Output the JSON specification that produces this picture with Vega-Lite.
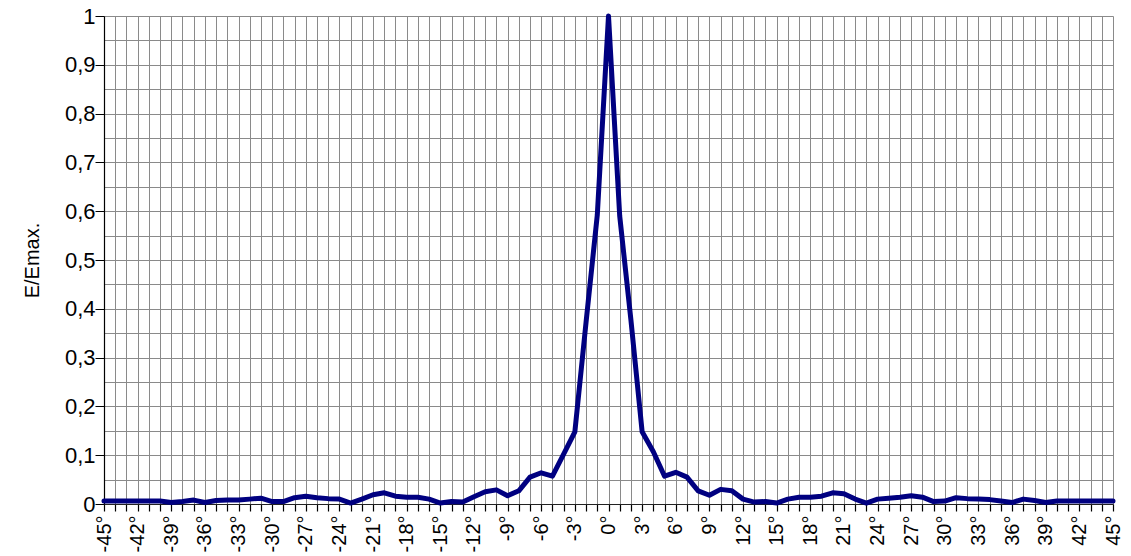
{
  "$schema": "https://vega.github.io/schema/vega-lite/v6.json",
  "width": 1009,
  "height": 488,
  "autosize": {"type": "none"},
  "padding": {"left": 104, "top": 16, "right": 18, "bottom": 52},
  "background": "white",
  "config": {"view": {"stroke": null}, "font": "Liberation Sans"},
  "data": {"values": [
    {"angle": -45, "e": 0.006}, {"angle": -44, "e": 0.006}, {"angle": -43, "e": 0.006}, {"angle": -42, "e": 0.006},
    {"angle": -41, "e": 0.006}, {"angle": -40, "e": 0.006}, {"angle": -39, "e": 0.003}, {"angle": -38, "e": 0.005},
    {"angle": -37, "e": 0.008}, {"angle": -36, "e": 0.003}, {"angle": -35, "e": 0.007}, {"angle": -34, "e": 0.008},
    {"angle": -33, "e": 0.008}, {"angle": -32, "e": 0.010}, {"angle": -31, "e": 0.012}, {"angle": -30, "e": 0.005},
    {"angle": -29, "e": 0.005}, {"angle": -28, "e": 0.013}, {"angle": -27, "e": 0.016}, {"angle": -26, "e": 0.013},
    {"angle": -25, "e": 0.011}, {"angle": -24, "e": 0.010}, {"angle": -23, "e": 0.002}, {"angle": -22, "e": 0.010},
    {"angle": -21, "e": 0.019}, {"angle": -20, "e": 0.023}, {"angle": -19, "e": 0.016}, {"angle": -18, "e": 0.014},
    {"angle": -17, "e": 0.014}, {"angle": -16, "e": 0.010}, {"angle": -15, "e": 0.002}, {"angle": -14, "e": 0.005},
    {"angle": -13, "e": 0.004}, {"angle": -12, "e": 0.015}, {"angle": -11, "e": 0.025}, {"angle": -10, "e": 0.029},
    {"angle": -9, "e": 0.017}, {"angle": -8, "e": 0.027}, {"angle": -7, "e": 0.055}, {"angle": -6, "e": 0.064},
    {"angle": -5, "e": 0.057}, {"angle": -4, "e": 0.102}, {"angle": -3, "e": 0.148}, {"angle": -2, "e": 0.373},
    {"angle": -1, "e": 0.592}, {"angle": 0, "e": 1.0}, {"angle": 1, "e": 0.59}, {"angle": 2, "e": 0.377},
    {"angle": 3, "e": 0.148}, {"angle": 4, "e": 0.107}, {"angle": 5, "e": 0.057}, {"angle": 6, "e": 0.065},
    {"angle": 7, "e": 0.055}, {"angle": 8, "e": 0.027}, {"angle": 9, "e": 0.018}, {"angle": 10, "e": 0.030},
    {"angle": 11, "e": 0.027}, {"angle": 12, "e": 0.010}, {"angle": 13, "e": 0.004}, {"angle": 14, "e": 0.005},
    {"angle": 15, "e": 0.002}, {"angle": 16, "e": 0.010}, {"angle": 17, "e": 0.014}, {"angle": 18, "e": 0.014},
    {"angle": 19, "e": 0.016}, {"angle": 20, "e": 0.023}, {"angle": 21, "e": 0.021}, {"angle": 22, "e": 0.010},
    {"angle": 23, "e": 0.002}, {"angle": 24, "e": 0.010}, {"angle": 25, "e": 0.012}, {"angle": 26, "e": 0.014},
    {"angle": 27, "e": 0.017}, {"angle": 28, "e": 0.014}, {"angle": 29, "e": 0.005}, {"angle": 30, "e": 0.006},
    {"angle": 31, "e": 0.013}, {"angle": 32, "e": 0.011}, {"angle": 33, "e": 0.010}, {"angle": 34, "e": 0.009},
    {"angle": 35, "e": 0.006}, {"angle": 36, "e": 0.003}, {"angle": 37, "e": 0.010}, {"angle": 38, "e": 0.007},
    {"angle": 39, "e": 0.003}, {"angle": 40, "e": 0.006}, {"angle": 41, "e": 0.006}, {"angle": 42, "e": 0.006},
    {"angle": 43, "e": 0.006}, {"angle": 44, "e": 0.006}, {"angle": 45, "e": 0.006}
  ]},
  "mark": {"type": "line", "color": "#000080", "strokeWidth": 5, "strokeJoin": "round", "strokeCap": "round"},
  "encoding": {
    "x": {
      "field": "angle",
      "type": "quantitative",
      "scale": {"domain": [-45, 45], "nice": false, "zero": false},
      "axis": {
        "title": null,
        "values": [-45,-44,-43,-42,-41,-40,-39,-38,-37,-36,-35,-34,-33,-32,-31,-30,-29,-28,-27,-26,-25,-24,-23,-22,-21,-20,-19,-18,-17,-16,-15,-14,-13,-12,-11,-10,-9,-8,-7,-6,-5,-4,-3,-2,-1,0,1,2,3,4,5,6,7,8,9,10,11,12,13,14,15,16,17,18,19,20,21,22,23,24,25,26,27,28,29,30,31,32,33,34,35,36,37,38,39,40,41,42,43,44,45],
        "labelExpr": "datum.value % 3 == 0 ? datum.value + '°' : ''",
        "labelAngle": -90,
        "labelAlign": "right",
        "labelBaseline": "middle",
        "labelFontSize": 20,
        "labelColor": "black",
        "labelPadding": 4,
        "labelOverlap": false,
        "labelFlush": false,
        "tickSize": 7,
        "tickColor": "black",
        "tickWidth": 1.2,
        "domainColor": "#222",
        "domainWidth": 1.2,
        "grid": true,
        "gridColor": "#8a8a8a",
        "gridWidth": 1
      }
    },
    "y": {
      "field": "e",
      "type": "quantitative",
      "scale": {"domain": [0, 1], "nice": false},
      "axis": {
        "title": "E/Emax.",
        "titleFontSize": 20,
        "titleFontWeight": "normal",
        "titleColor": "black",
        "titlePadding": 22,
        "values": [0,0.05,0.1,0.15,0.2,0.25,0.3,0.35,0.4,0.45,0.5,0.55,0.6,0.65,0.7,0.75,0.8,0.85,0.9,0.95,1],
        "labelExpr": "round(datum.value*20) % 2 == 0 ? replace(format(datum.value, '.1~f'), '.', ',') : ''",
        "labelFontSize": 22,
        "labelColor": "black",
        "labelPadding": 0,
        "labelOverlap": false,
        "labelFlush": false,
        "tickSize": 9,
        "tickColor": "black",
        "tickOpacity": {"condition": {"test": "round(datum.value*20) % 2 == 1", "value": 0}, "value": 1},
        "domainColor": "black",
        "domainWidth": 1.2,
        "grid": true,
        "gridColor": "#8a8a8a",
        "gridWidth": 1
      }
    }
  }
}
